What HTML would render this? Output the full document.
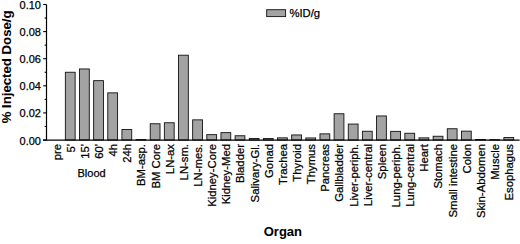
<!DOCTYPE html><html><head><meta charset="utf-8"><style>html,body{margin:0;padding:0;background:#fff;}svg{display:block;}text{font-family:"Liberation Sans",sans-serif;fill:#000;stroke:#000;stroke-width:0.25px;}</style></head><body>
<svg width="520" height="244" viewBox="0 0 520 244">
<rect x="65.35" y="72.25" width="9.80" height="67.75" fill="#a3a3a3" stroke="#111" stroke-width="0.9"/>
<rect x="79.49" y="68.95" width="9.80" height="71.05" fill="#a3a3a3" stroke="#111" stroke-width="0.9"/>
<rect x="93.64" y="80.65" width="9.80" height="59.35" fill="#a3a3a3" stroke="#111" stroke-width="0.9"/>
<rect x="107.78" y="92.85" width="9.80" height="47.15" fill="#a3a3a3" stroke="#111" stroke-width="0.9"/>
<rect x="121.93" y="129.55" width="9.80" height="10.45" fill="#a3a3a3" stroke="#111" stroke-width="0.9"/>
<rect x="136.08" y="139.55" width="9.80" height="0.45" fill="#a3a3a3" stroke="#111" stroke-width="0.9"/>
<rect x="150.22" y="123.75" width="9.80" height="16.25" fill="#a3a3a3" stroke="#111" stroke-width="0.9"/>
<rect x="164.37" y="122.75" width="9.80" height="17.25" fill="#a3a3a3" stroke="#111" stroke-width="0.9"/>
<rect x="178.51" y="55.20" width="9.80" height="84.80" fill="#a3a3a3" stroke="#111" stroke-width="0.9"/>
<rect x="192.66" y="119.85" width="9.80" height="20.15" fill="#a3a3a3" stroke="#111" stroke-width="0.9"/>
<rect x="206.81" y="134.65" width="9.80" height="5.35" fill="#a3a3a3" stroke="#111" stroke-width="0.9"/>
<rect x="220.95" y="132.65" width="9.80" height="7.35" fill="#a3a3a3" stroke="#111" stroke-width="0.9"/>
<rect x="235.10" y="135.75" width="9.80" height="4.25" fill="#a3a3a3" stroke="#111" stroke-width="0.9"/>
<rect x="249.24" y="138.55" width="9.80" height="1.45" fill="#a3a3a3" stroke="#111" stroke-width="0.9"/>
<rect x="263.39" y="138.55" width="9.80" height="1.45" fill="#a3a3a3" stroke="#111" stroke-width="0.9"/>
<rect x="277.54" y="137.85" width="9.80" height="2.15" fill="#a3a3a3" stroke="#111" stroke-width="0.9"/>
<rect x="291.68" y="134.95" width="9.80" height="5.05" fill="#a3a3a3" stroke="#111" stroke-width="0.9"/>
<rect x="305.83" y="137.95" width="9.80" height="2.05" fill="#a3a3a3" stroke="#111" stroke-width="0.9"/>
<rect x="319.97" y="133.85" width="9.80" height="6.15" fill="#a3a3a3" stroke="#111" stroke-width="0.9"/>
<rect x="334.12" y="113.75" width="9.80" height="26.25" fill="#a3a3a3" stroke="#111" stroke-width="0.9"/>
<rect x="348.27" y="124.05" width="9.80" height="15.95" fill="#a3a3a3" stroke="#111" stroke-width="0.9"/>
<rect x="362.41" y="131.25" width="9.80" height="8.75" fill="#a3a3a3" stroke="#111" stroke-width="0.9"/>
<rect x="376.56" y="115.95" width="9.80" height="24.05" fill="#a3a3a3" stroke="#111" stroke-width="0.9"/>
<rect x="390.70" y="131.35" width="9.80" height="8.65" fill="#a3a3a3" stroke="#111" stroke-width="0.9"/>
<rect x="404.85" y="133.25" width="9.80" height="6.75" fill="#a3a3a3" stroke="#111" stroke-width="0.9"/>
<rect x="419.00" y="137.85" width="9.80" height="2.15" fill="#a3a3a3" stroke="#111" stroke-width="0.9"/>
<rect x="433.14" y="136.25" width="9.80" height="3.75" fill="#a3a3a3" stroke="#111" stroke-width="0.9"/>
<rect x="447.29" y="128.75" width="9.80" height="11.25" fill="#a3a3a3" stroke="#111" stroke-width="0.9"/>
<rect x="461.43" y="131.15" width="9.80" height="8.85" fill="#a3a3a3" stroke="#111" stroke-width="0.9"/>
<rect x="475.58" y="139.45" width="9.80" height="0.55" fill="#a3a3a3" stroke="#111" stroke-width="0.9"/>
<rect x="489.73" y="139.65" width="9.80" height="0.35" fill="#a3a3a3" stroke="#111" stroke-width="0.9"/>
<rect x="503.87" y="137.55" width="9.80" height="2.45" fill="#a3a3a3" stroke="#111" stroke-width="0.9"/>
<line x1="46.5" y1="4.5" x2="46.5" y2="140.6" stroke="#000" stroke-width="1.2"/>
<line x1="43" y1="140.2" x2="519.6" y2="140.2" stroke="#000" stroke-width="1.3"/>
<line x1="43.2" y1="140.00" x2="46.5" y2="140.00" stroke="#000" stroke-width="1.1"/>
<text x="41" y="144.50" font-size="11" text-anchor="end">0.00</text>
<line x1="44.6" y1="126.45" x2="46.5" y2="126.45" stroke="#000" stroke-width="1.1"/>
<line x1="43.2" y1="112.90" x2="46.5" y2="112.90" stroke="#000" stroke-width="1.1"/>
<text x="41" y="117.40" font-size="11" text-anchor="end">0.02</text>
<line x1="44.6" y1="99.35" x2="46.5" y2="99.35" stroke="#000" stroke-width="1.1"/>
<line x1="43.2" y1="85.80" x2="46.5" y2="85.80" stroke="#000" stroke-width="1.1"/>
<text x="41" y="90.30" font-size="11" text-anchor="end">0.04</text>
<line x1="44.6" y1="72.25" x2="46.5" y2="72.25" stroke="#000" stroke-width="1.1"/>
<line x1="43.2" y1="58.70" x2="46.5" y2="58.70" stroke="#000" stroke-width="1.1"/>
<text x="41" y="63.20" font-size="11" text-anchor="end">0.06</text>
<line x1="44.6" y1="45.15" x2="46.5" y2="45.15" stroke="#000" stroke-width="1.1"/>
<line x1="43.2" y1="31.60" x2="46.5" y2="31.60" stroke="#000" stroke-width="1.1"/>
<text x="41" y="36.10" font-size="11" text-anchor="end">0.08</text>
<line x1="44.6" y1="18.05" x2="46.5" y2="18.05" stroke="#000" stroke-width="1.1"/>
<line x1="43.2" y1="4.50" x2="46.5" y2="4.50" stroke="#000" stroke-width="1.1"/>
<text x="41" y="9.00" font-size="11" text-anchor="end">0.10</text>
<text transform="translate(60.50,144.0) rotate(-90)" font-size="11.3" text-anchor="end">pre</text>
<text transform="translate(74.65,144.0) rotate(-90)" font-size="11.3" text-anchor="end">5&#39;</text>
<text transform="translate(88.79,144.0) rotate(-90)" font-size="11.3" text-anchor="end">15&#39;</text>
<text transform="translate(102.94,144.0) rotate(-90)" font-size="11.3" text-anchor="end">60&#39;</text>
<text transform="translate(117.08,144.0) rotate(-90)" font-size="11.3" text-anchor="end">4h</text>
<text transform="translate(131.23,144.0) rotate(-90)" font-size="11.3" text-anchor="end">24h</text>
<text transform="translate(145.38,144.0) rotate(-90)" font-size="11.3" text-anchor="end">BM-asp.</text>
<text transform="translate(159.52,144.0) rotate(-90)" font-size="11.3" text-anchor="end">BM Core</text>
<text transform="translate(173.67,144.0) rotate(-90)" font-size="11.3" text-anchor="end">LN-ax</text>
<text transform="translate(187.81,144.0) rotate(-90)" font-size="11.3" text-anchor="end">LN-sm.</text>
<text transform="translate(201.96,144.0) rotate(-90)" font-size="11.3" text-anchor="end">LN-mes.</text>
<text transform="translate(216.11,144.0) rotate(-90)" font-size="11.3" text-anchor="end">Kidney-Core</text>
<text transform="translate(230.25,144.0) rotate(-90)" font-size="11.3" text-anchor="end">Kidney-Med</text>
<text transform="translate(244.40,144.0) rotate(-90)" font-size="11.3" text-anchor="end">Bladder</text>
<text transform="translate(258.54,144.0) rotate(-90)" font-size="11.3" text-anchor="end">Salivary-Gl.</text>
<text transform="translate(272.69,144.0) rotate(-90)" font-size="11.3" text-anchor="end">Gonad</text>
<text transform="translate(286.84,144.0) rotate(-90)" font-size="11.3" text-anchor="end">Trachea</text>
<text transform="translate(300.98,144.0) rotate(-90)" font-size="11.3" text-anchor="end">Thyroid</text>
<text transform="translate(315.13,144.0) rotate(-90)" font-size="11.3" text-anchor="end">Thymus</text>
<text transform="translate(329.27,144.0) rotate(-90)" font-size="11.3" text-anchor="end">Pancreas</text>
<text transform="translate(343.42,144.0) rotate(-90)" font-size="11.3" text-anchor="end">Gallbladder</text>
<text transform="translate(357.57,144.0) rotate(-90)" font-size="11.3" text-anchor="end">Liver-periph.</text>
<text transform="translate(371.71,144.0) rotate(-90)" font-size="11.3" text-anchor="end">Liver-central</text>
<text transform="translate(385.86,144.0) rotate(-90)" font-size="11.3" text-anchor="end">Spleen</text>
<text transform="translate(400.00,144.0) rotate(-90)" font-size="11.3" text-anchor="end">Lung-periph.</text>
<text transform="translate(414.15,144.0) rotate(-90)" font-size="11.3" text-anchor="end">Lung-central</text>
<text transform="translate(428.30,144.0) rotate(-90)" font-size="11.3" text-anchor="end">Heart</text>
<text transform="translate(442.44,144.0) rotate(-90)" font-size="11.3" text-anchor="end">Stomach</text>
<text transform="translate(456.59,144.0) rotate(-90)" font-size="11.3" text-anchor="end">Small intestine</text>
<text transform="translate(470.73,144.0) rotate(-90)" font-size="11.3" text-anchor="end">Colon</text>
<text transform="translate(484.88,144.0) rotate(-90)" font-size="11.3" text-anchor="end">Skin-Abdomen</text>
<text transform="translate(499.03,144.0) rotate(-90)" font-size="11.3" text-anchor="end">Muscle</text>
<text transform="translate(513.17,144.0) rotate(-90)" font-size="11.3" text-anchor="end">Esophagus</text>
<text x="91.6" y="177.0" font-size="11" text-anchor="middle">Blood</text>
<text x="282.9" y="235.8" font-size="13" font-weight="bold" style="stroke-width:0.05px" text-anchor="middle">Organ</text>
<text transform="translate(10.8,66.9) rotate(-90)" font-size="13.2" font-weight="bold" style="stroke-width:0.05px" text-anchor="middle">% Injected Dose/g</text>
<rect x="266.7" y="9.7" width="18.9" height="6.9" fill="#a3a3a3" stroke="#111" stroke-width="0.9"/>
<text x="289.4" y="17.1" font-size="11.3">%ID/g</text>
</svg></body></html>
